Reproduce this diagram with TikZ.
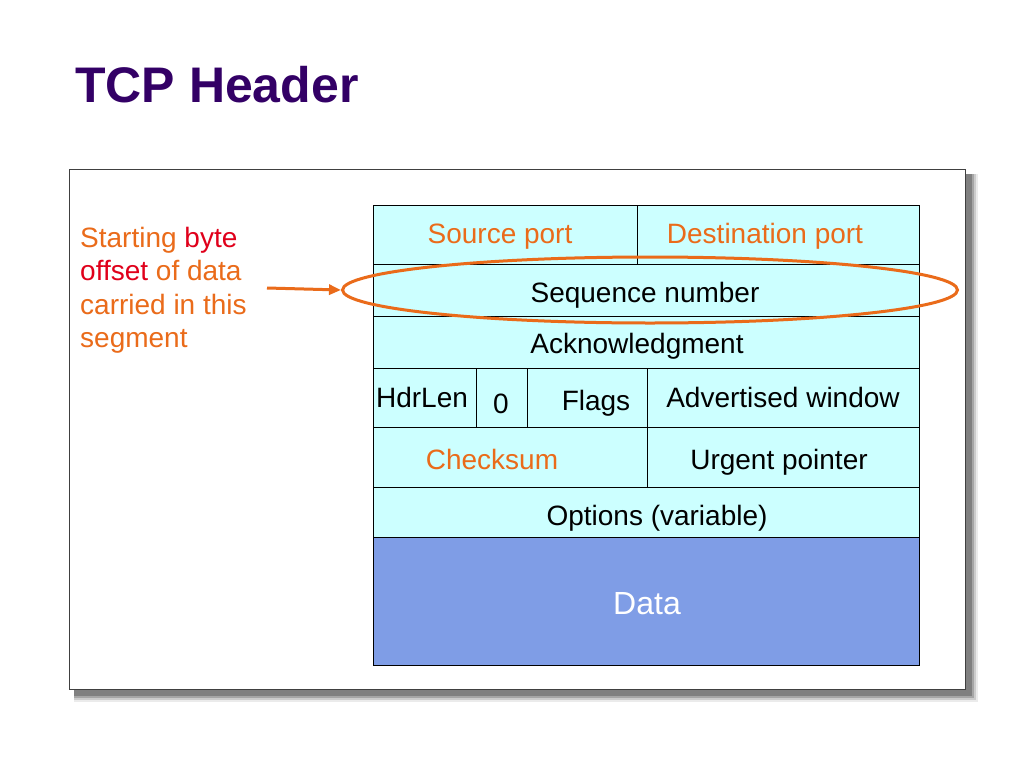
\documentclass[tikz,border=0pt]{standalone}
\usepackage{fontspec}
\setmainfont{Liberation Sans}
\usetikzlibrary{shapes.geometric,arrows.meta}
\definecolor{ttl}{HTML}{330066}
\definecolor{org}{HTML}{EA6B1A}
\definecolor{redt}{HTML}{E0001B}
\definecolor{cyanf}{HTML}{CCFFFF}
\definecolor{dataf}{HTML}{7F9DE6}
\begin{document}
\begin{tikzpicture}[x=1pt,y=-1pt,
  cell/.style={draw=black, line width=1pt, fill=cyanf, inner sep=0pt, anchor=north west},
  txt/.style={font=\fontsize{28}{32}\selectfont, inner sep=0pt, anchor=base},
  otxt/.style={txt, text=org}]
\useasboundingbox (0,0) rectangle (1024,768);
% title
\node[font=\fontsize{50}{56}\selectfont\bfseries, text=ttl, anchor=base west, inner sep=0pt] (title) at (75,102) {TCP Header};
% frame with shadow
\fill[black!8] (74,174) rectangle (978,702);
\fill[black!20] (74,174) rectangle (976,700);
\fill[black!35] (74,174) rectangle (974,698);
\fill[black!50] (74,174) rectangle (972,696);
\node[draw=black!75, line width=1.2pt, fill=white, anchor=north west, minimum width=896pt, minimum height=520pt, inner sep=0pt] (frame) at (69,169) {};
% cells
\node[cell, minimum width=264pt, minimum height=59pt] (src) at (373,205) {};
\node[cell, minimum width=282pt, minimum height=59pt] (dst) at (637,205) {};
\node[cell, minimum width=546pt, minimum height=52pt] (seq) at (373,264) {};
\node[cell, minimum width=546pt, minimum height=52pt] (ack) at (373,316) {};
\node[cell, minimum width=103pt, minimum height=59pt] (hdr) at (373,368) {};
\node[cell, minimum width=51pt, minimum height=59pt] (zero) at (476,368) {};
\node[cell, minimum width=120pt, minimum height=59pt] (flg) at (527,368) {};
\node[cell, minimum width=272pt, minimum height=59pt] (adv) at (647,368) {};
\node[cell, minimum width=274pt, minimum height=60pt] (chk) at (373,427) {};
\node[cell, minimum width=272pt, minimum height=60pt] (urg) at (647,427) {};
\node[cell, minimum width=546pt, minimum height=50pt] (opt) at (373,487) {};
\node[cell, fill=dataf, minimum width=546pt, minimum height=128pt] (dat) at (373,537) {};
% cell texts
\node[otxt] (tsrc) at (500,243) {Source port};
\node[otxt] (tdst) at (765,243) {Destination port};
\node[txt] (tseq) at (645,302) {Sequence number};
\node[txt] (tack) at (637,353) {Acknowledgment};
\node[txt] (thdr) at (422,407) {HdrLen};
\node[txt] (tzero) at (501,413) {0};
\node[txt] (tflg) at (596,410) {Flags};
\node[txt] (tadv) at (783,407) {Advertised window};
\node[otxt] (tchk) at (492,469) {Checksum};
\node[txt] (turg) at (779,469) {Urgent pointer};
\node[txt] (topt) at (657,525) {Options (variable)};
\node[txt, text=white, font=\fontsize{32}{36}\selectfont] (tdat) at (647,614) {Data};
% left annotation
\node[font=\fontsize{28}{33.3}\selectfont, text=org, align=left, anchor=north west, inner sep=0pt] (note) at (80,227)
  {Starting {\color{redt}byte}\\{\color{redt}offset} of data\\carried in this\\segment};
% ellipse and arrow
\node[draw=org, line width=3pt, ellipse, minimum width=615pt, minimum height=66pt, inner sep=0pt] (ell) at (650,290) {};
\coordinate (as) at (267,288);
\draw[org, line width=3pt, -{Triangle[length=12pt,width=10pt]}] (as) -- (ell.west);
\end{tikzpicture}
\end{document}
